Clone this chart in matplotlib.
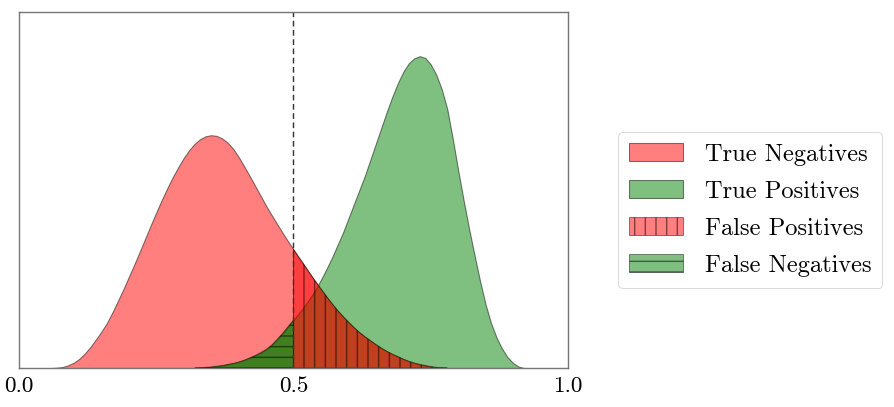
import matplotlib
matplotlib.use("Agg")
import matplotlib.pyplot as plt
import numpy as np

plt.rcParams['font.family'] = ['cmr10', 'DejaVu Serif']
plt.rcParams['axes.formatter.use_mathtext'] = True
plt.rcParams['hatch.linewidth'] = 1.6

# Density of the negative class (in axis-height units)
neg_x = [0.06, 0.07, 0.08, 0.09, 0.10, 0.11, 0.12, 0.13, 0.14, 0.15, 0.16, 0.17,
         0.18, 0.19, 0.20, 0.21, 0.22, 0.23, 0.24, 0.25, 0.26, 0.27, 0.28, 0.29,
         0.30, 0.31, 0.32, 0.33, 0.34, 0.35, 0.36, 0.37, 0.38, 0.39, 0.40, 0.41,
         0.42, 0.43, 0.44, 0.45, 0.46, 0.47, 0.48, 0.49, 0.50, 0.51, 0.52, 0.53,
         0.54, 0.55, 0.56, 0.57, 0.58, 0.59, 0.60, 0.61, 0.62, 0.63, 0.64, 0.65,
         0.66, 0.67, 0.68, 0.69, 0.70, 0.71, 0.72, 0.73, 0.74, 0.75, 0.76, 0.77, 0.78]
neg_y = [0.000, 0.001, 0.003, 0.008, 0.015, 0.026, 0.041, 0.059, 0.080, 0.102, 0.126, 0.156,
         0.188, 0.221, 0.256, 0.291, 0.327, 0.364, 0.401, 0.437, 0.472, 0.505, 0.536, 0.564,
         0.590, 0.612, 0.630, 0.643, 0.651, 0.654, 0.652, 0.645, 0.633, 0.616, 0.593, 0.567,
         0.540, 0.512, 0.484, 0.456, 0.430, 0.405, 0.380, 0.356, 0.333, 0.310, 0.288, 0.265,
         0.243, 0.222, 0.201, 0.181, 0.162, 0.145, 0.129, 0.114, 0.100, 0.088, 0.077, 0.066,
         0.056, 0.047, 0.039, 0.032, 0.025, 0.019, 0.014, 0.010, 0.007, 0.004, 0.002, 0.001, 0.000]

# Density of the positive class (in axis-height units)
pos_x = [0.32, 0.33, 0.34, 0.35, 0.36, 0.37, 0.38, 0.39, 0.40, 0.41, 0.42, 0.43,
         0.44, 0.45, 0.46, 0.47, 0.48, 0.49, 0.50, 0.51, 0.52, 0.53, 0.54, 0.55,
         0.56, 0.57, 0.58, 0.59, 0.60, 0.61, 0.62, 0.63, 0.64, 0.65, 0.66, 0.67,
         0.68, 0.69, 0.70, 0.71, 0.72, 0.73, 0.74, 0.75, 0.76, 0.77, 0.78, 0.79,
         0.80, 0.81, 0.82, 0.83, 0.84, 0.85, 0.86, 0.87, 0.88, 0.89, 0.90, 0.91, 0.92]
pos_y = [0.000, 0.001, 0.002, 0.003, 0.005, 0.007, 0.010, 0.013, 0.017, 0.022, 0.028, 0.035,
         0.043, 0.052, 0.064, 0.080, 0.097, 0.116, 0.135, 0.154, 0.174, 0.196, 0.220, 0.248,
         0.278, 0.310, 0.345, 0.380, 0.420, 0.460, 0.500, 0.540, 0.585, 0.630, 0.675, 0.720,
         0.762, 0.800, 0.832, 0.856, 0.870, 0.876, 0.871, 0.853, 0.824, 0.783, 0.728, 0.645,
         0.555, 0.470, 0.390, 0.315, 0.243, 0.178, 0.125, 0.085, 0.054, 0.030, 0.014, 0.004, 0.000]

threshold = 0.5
tick_vals = [0.0, 0.5, 1.0]
tick_labels = ["0.0", "0.5", "1.0"]
labels = ["True Negatives", "True Positives", "False Positives", "False Negatives"]

neg_x = np.array(neg_x); neg_y = np.array(neg_y)
pos_x = np.array(pos_x); pos_y = np.array(pos_y)

DPI = 64
fig = plt.figure(figsize=(894 / DPI, 407 / DPI), dpi=DPI)
ax = fig.add_axes([19 / 894, 1 - 368 / 407, (568 - 19) / 894, (368 - 12) / 407])

ax.fill_between(neg_x, 0, neg_y, facecolor='red', edgecolor='k', alpha=0.5, lw=1.2,
                label=labels[0])
ax.fill_between(pos_x, 0, pos_y, facecolor='green', edgecolor='k', alpha=0.5, lw=1.2,
                label=labels[1])
m = neg_x >= threshold
ax.fill_between(neg_x[m], 0, neg_y[m], facecolor='red', edgecolor='k', alpha=0.5, lw=1.0,
                hatch='|', label=labels[2])
m = pos_x <= threshold
ax.fill_between(pos_x[m], 0, pos_y[m], facecolor='green', edgecolor='k', alpha=0.5, lw=1.0,
                hatch='-', label=labels[3])

ax.axvline(threshold, color='#333333', ls='--', lw=1.6, dashes=(4, 2.5))

ax.set_xlim(0, 1)
ax.set_ylim(0, 1)
ax.set_xticks(tick_vals)
ax.set_xticklabels(tick_labels)
ax.set_yticks([])
ax.tick_params(axis='x', length=0, pad=9, labelsize=26)
for s in ax.spines.values():
    s.set_color('#777777')
    s.set_linewidth(1.6)

fig.legend(loc='center left', bbox_to_anchor=(618 / 894, 1 - 210 / 407), fontsize=27.5,
           handlelength=2.2, handleheight=0.75, handletextpad=0.9, labelspacing=0.6,
           borderpad=0.45, borderaxespad=0.0, frameon=True, edgecolor='#cccccc')

fig.savefig("out.png", dpi=DPI)
